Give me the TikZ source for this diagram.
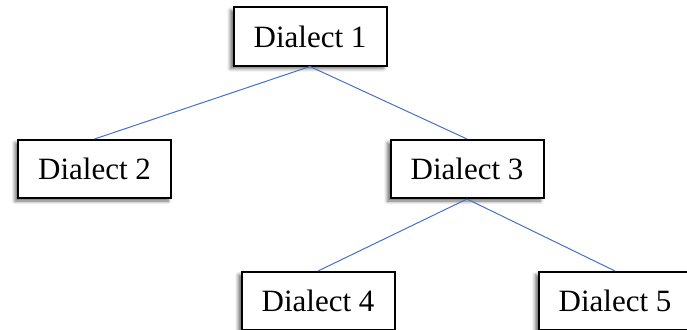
\documentclass[tikz,border=0pt]{standalone}
\usepackage{fontspec}
\setmainfont{Liberation Serif}
\usetikzlibrary{shadows.blur}
\definecolor{linkblue}{HTML}{4472C4}
\tikzset{
  dialect/.style={draw=black, line width=2pt, fill=white, minimum width=153pt, minimum height=58pt,
    inner sep=0pt, font=\fontsize{31}{36}\selectfont,
    blur shadow={shadow xshift=-3pt, shadow yshift=-3pt, shadow blur steps=6, shadow blur radius=3.5pt, shadow opacity=60}},
  link/.style={draw=linkblue, line width=1pt}
}
\begin{document}
\begin{tikzpicture}[x=1pt,y=-1pt]
\useasboundingbox (0,0) rectangle (687,329);
\node[dialect] (d1) at (310,36.5) {Dialect 1};
\node[dialect] (d2) at (94.5,169) {Dialect 2};
\node[dialect] (d3) at (467,169) {Dialect 3};
\node[dialect] (d4) at (318,301) {Dialect 4};
\node[dialect] (d5) at (615,301) {Dialect 5};
\draw[link] (d1.south) -- (d2.north);
\draw[link] (d1.south) -- (d3.north);
\draw[link] (d3.south) -- (d4.north);
\draw[link] (d3.south) -- (d5.north);
\end{tikzpicture}
\end{document}
